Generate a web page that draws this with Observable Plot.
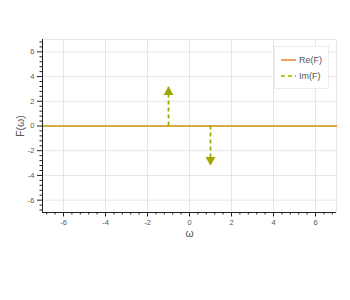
<!DOCTYPE html>
<html>
<head>
<meta charset="utf-8">
<script src="https://cdn.jsdelivr.net/npm/d3@7"></script>
<script src="https://cdn.jsdelivr.net/npm/@observablehq/plot@0.6"></script>
<style>
  body { margin: 0; background: #fff; font-family: "Liberation Sans", Arial, sans-serif; }
  #wrap { position: relative; width: 350px; height: 300px; }
  #legend { position: absolute; left: 274px; top: 46px; width: 55px; height: 43px; background: #fff;
            border: 1px solid #ececec; box-sizing: border-box; font-size: 9px; color: #555; }
  .row { position: absolute; left: 6px; display: flex; align-items: center; }
  .row span { margin-left: 3px; }
</style>
</head>
<body>
<div id="wrap"><div id="chart"></div>
<div id="legend">
  <div class="row" style="top:8px"><svg width="15" height="4"><line x1="0" x2="15" y1="2" y2="2" stroke="#f0955a" stroke-width="1.8"/></svg><span>Re(F)</span></div>
  <div class="row" style="top:24px"><svg width="15" height="4"><line x1="0" x2="15" y1="2" y2="2" stroke="#b8c22a" stroke-width="1.8" stroke-dasharray="4,3"/></svg><span>Im(F)</span></div>
</div>
</div>
<script>
const domainX = [-7, 7];
const domainY = [-7, 7];
const majorTicks = [-6, -4, -2, 0, 2, 4, 6];
const minorTicks = d3.range(-6.8, 7, 0.4).map(v => Math.round(v * 10) / 10).filter(v => !majorTicks.includes(v));
const omega = [-7, 7];
const reF = [0, 0];
const imF = [0, 0];
const impulseX = [-1, 1];
const impulseV = [Math.PI, -Math.PI];

const reColor = "#f0955a";
const imColor = "#b8c22a";
const arrowColor = "#9ea600";

const lineRe = omega.map((w, i) => ({w, v: reF[i]}));
const lineIm = omega.map((w, i) => ({w, v: imF[i]}));
const impulses = impulseX.map((w, i) => ({w, v: impulseV[i]}));
const fmt = d => String(d);

const chart = Plot.plot({
  width: 350,
  height: 300,
  marginLeft: 42,
  marginRight: 14,
  marginTop: 39,
  marginBottom: 88,
  style: {fontFamily: "Liberation Sans, Arial, sans-serif", background: "#fff"},
  x: {domain: domainX},
  y: {domain: domainY},
  marks: [
    Plot.frame({stroke: "#e8e8e8"}),
    Plot.gridX(majorTicks, {stroke: "#e6e6e6", strokeOpacity: 1}),
    Plot.gridY(majorTicks, {stroke: "#e6e6e6", strokeOpacity: 1}),
    Plot.line(lineRe, {x: "w", y: "v", stroke: reColor, strokeWidth: 2}),
    Plot.line(lineIm, {x: "w", y: "v", stroke: imColor, strokeWidth: 1.4, strokeDasharray: "4,3"}),
    Plot.ruleX(impulses, {x: "w", y1: 0, y2: "v", stroke: arrowColor, strokeWidth: 1.7, strokeDasharray: "4,3"}),
    Plot.dot(impulses.filter(d => d.v > 0), {x: "w", y: "v", symbol: "triangle", r: 3.7, fill: arrowColor, stroke: null, dy: 5}),
    Plot.dot(impulses.filter(d => d.v < 0), {x: "w", y: "v", symbol: "triangle", r: 3.7, fill: arrowColor, stroke: null, rotate: 180, dy: -5}),
    Plot.axisX(minorTicks, {tickSize: 2.5, text: null, label: null, stroke: "#222"}),
    Plot.axisY(minorTicks, {tickSize: 2.5, text: null, label: null, stroke: "#222"}),
    Plot.axisX(majorTicks, {tickSize: 4.5, tickPadding: 3, fontSize: 7.5, fill: "#555", stroke: "#222", tickFormat: fmt,
      label: "ω", labelAnchor: "center", labelArrow: "none", labelOffset: 24}),
    Plot.axisY(majorTicks, {tickSize: 5, tickPadding: 3, fontSize: 7.5, fill: "#555", stroke: "#222", tickFormat: fmt,
      label: "F(ω)", labelAnchor: "center", labelArrow: "none", labelOffset: 26}),
    Plot.ruleY([domainY[0]], {stroke: "#222"}),
    Plot.ruleX([domainX[0]], {stroke: "#222"})
  ]
});
document.getElementById("chart").appendChild(chart);
chart.querySelectorAll("[aria-label='x-axis label'] text, [aria-label='y-axis label'] text").forEach(t => {
  t.setAttribute("font-size", "10.5");
  t.setAttribute("fill", "#555");
});
</script>
</body>
</html>
